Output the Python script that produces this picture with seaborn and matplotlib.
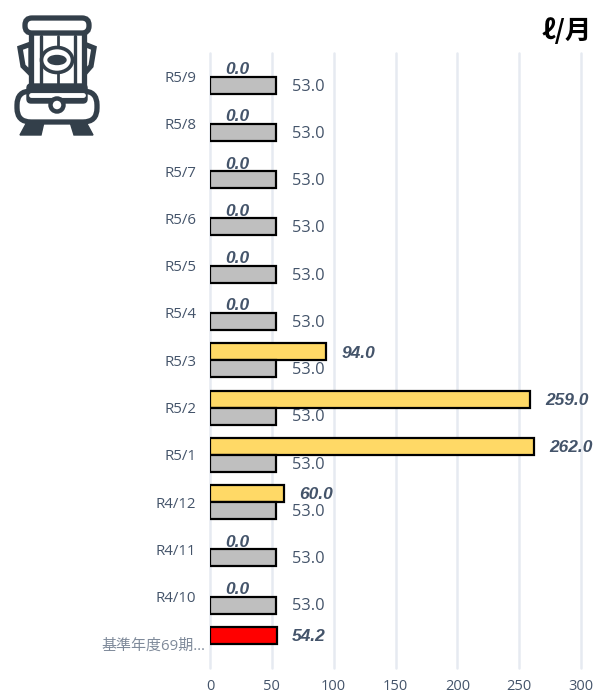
import numpy as np
import pandas as pd
import matplotlib
matplotlib.use("Agg")
import matplotlib.pyplot as plt
from matplotlib.patches import FancyBboxPatch, Ellipse, Rectangle, Circle, Polygon
from matplotlib.transforms import ScaledTranslation
import seaborn as sns

categories = ["R5/9", "R5/8", "R5/7", "R5/6", "R5/5", "R5/4", "R5/3", "R5/2", "R5/1",
              "R4/12", "R4/11", "R4/10", "基準年度69期…"]
actual = [0.0, 0.0, 0.0, 0.0, 0.0, 0.0, 94.0, 259.0, 262.0, 60.0, 0.0, 0.0, 54.2]
baseline = [53.0] * 12 + [np.nan]

W, H = 597, 695
TEXT = "#44546A"
GRID = "#E6EAF1"
sns.set_theme(style="white")
plt.rcParams["font.family"] = ["Open Sans", "Noto Sans CJK JP", "DejaVu Sans"]

df = pd.DataFrame({
    "month": categories * 2,
    "value": actual + baseline,
    "series": ["actual"] * 13 + ["baseline"] * 13,
})

fig = plt.figure(figsize=(W / 100, H / 100), dpi=100)
ax = fig.add_axes([210 / W, 1 - 667.5 / H, (581 - 210) / W, (667.5 - 53) / H])
sns.barplot(data=df, y="month", x="value", hue="series", order=categories,
            hue_order=["actual", "baseline"], width=0.72, gap=0, dodge=True, saturation=1,
            palette={"actual": "#FFD966", "baseline": "#BFBFBF"},
            edgecolor="black", linewidth=1.6, legend=False, ax=ax, zorder=3)

ax.set_xlim(0, 300)
ax.set_ylim(12.5, -0.5)
ax.set_xticks(range(0, 301, 50))
ax.xaxis.grid(True, color=GRID, linewidth=1.8, zorder=0, clip_on=False)
ax.set_axisbelow(True)
ax.yaxis.grid(False)
for s in ax.spines.values():
    s.set_visible(False)
ax.set_xlabel("")
ax.set_ylabel("")
ax.tick_params(axis="x", length=0, pad=8, labelsize=10.5, labelcolor=TEXT)
ax.tick_params(axis="y", length=0, pad=10, labelsize=10.8, labelcolor=TEXT)
for lab in ax.get_yticklabels():
    if lab.get_text().startswith("基準"):
        lab.set_color("#7F8A9A")
        lab.set_transform(lab.get_transform() + ScaledTranslation(9 / 100, 0, fig.dpi_scale_trans))

actual_bars, base_bars = ax.containers[0], ax.containers[1]
for bar, val in zip(actual_bars, actual):
    if val == 54.2:
        bar.set_facecolor("#FF0000")
    if val == 0:
        bar.set_linewidth(0)
    ax.annotate(f"{val:.1f}", (val, bar.get_y() + bar.get_height() / 2),
                xytext=(11, -1), textcoords="offset points", va="center", ha="left",
                fontsize=12.5, fontweight="bold", fontstyle="italic", color=TEXT, zorder=5,
                family="Liberation Sans")
for bar, val in zip(base_bars, baseline):
    if np.isnan(val):
        continue
    ax.annotate(f"{val:.1f}", (val, bar.get_y() + bar.get_height() / 2),
                xytext=(11.5, -1), textcoords="offset points", va="center", ha="left",
                fontsize=11.8, color=TEXT, zorder=5)

fig.text(592 / W, 1 - 32 / H, "ℓ/月", ha="right", va="center", fontsize=19, fontweight="bold",
         family=["Noto Sans CJK JP", "DejaVu Sans"], color="black")

# Stove icon, drawn in a pixel-space overlay
ic = fig.add_axes([0, 0, 1, 1], zorder=6)
ic.set_xlim(0, W)
ic.set_ylim(H, 0)
ic.axis("off")
ic.patch.set_alpha(0)
C = "#333F4A"
kw = dict(edgecolor=C, facecolor="white", linewidth=3.8)
# feet
for pts in ([(27, 122), (20, 135), (41, 135), (44, 122)], [(70, 122), (74, 135), (93, 135), (86, 122)]):
    ic.add_patch(Polygon(pts, closed=True, facecolor=C, edgecolor=C, linewidth=1))
# handles
ic.add_patch(Polygon([(31, 44), (20, 48), (23, 66), (31, 74)], closed=True, **kw))
ic.add_patch(Polygon([(84, 44), (94, 48), (91, 66), (84, 74)], closed=True, **kw))
# body
ic.add_patch(Rectangle((31, 32), 53, 60, **kw))
for x, lw in ((41, 2.4), (57.5, 2.0), (75, 2.4)):
    ic.plot([x, x], [36, 90], color=C, lw=lw)
ic.add_patch(Ellipse((57, 60), 31, 25, edgecolor=C, facecolor="white", linewidth=2.6, zorder=3))
ic.add_patch(Ellipse((57, 60), 18, 9, edgecolor=C, facecolor=C, linewidth=1, zorder=4))
# base
ic.add_patch(FancyBboxPatch((17, 91), 80, 31, boxstyle="round,pad=0,rounding_size=14", zorder=3, **kw))
ic.add_patch(FancyBboxPatch((27, 84), 60, 19, boxstyle="round,pad=0,rounding_size=4", zorder=4,
                            edgecolor=C, facecolor=C, linewidth=1))
ic.plot([31, 83], [95, 95], color="white", lw=3.5, zorder=5)
ic.add_patch(Circle((57, 105), 6.5, edgecolor=C, facecolor="white", linewidth=3.2, zorder=6))
# lid
ic.add_patch(FancyBboxPatch((25, 18), 64, 15, boxstyle="round,pad=0,rounding_size=7", zorder=5, **kw))

fig.savefig("out.png", dpi=100)
